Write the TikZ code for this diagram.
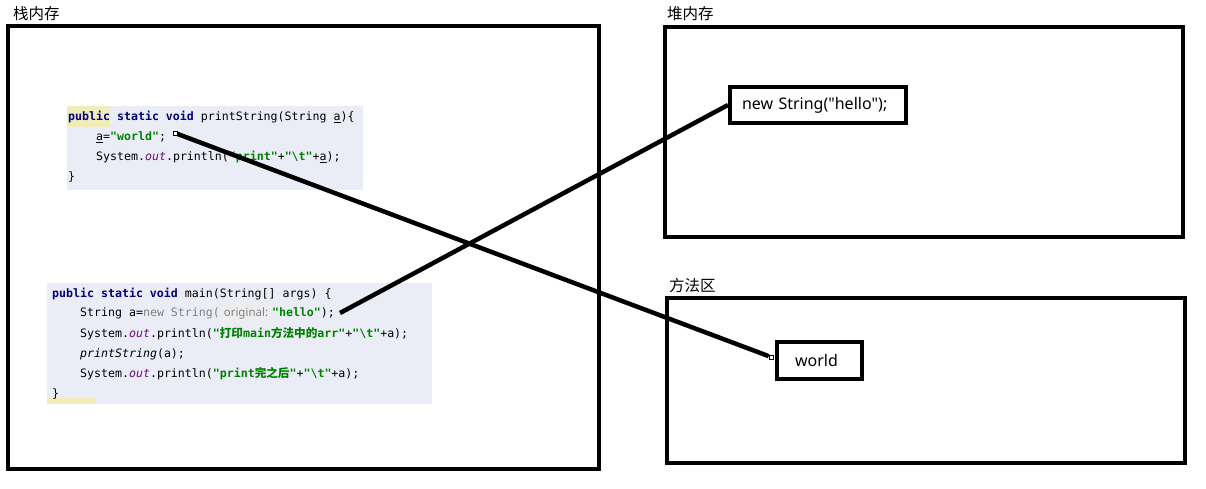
\documentclass[tikz,border=0pt]{standalone}
\usepackage{fontspec}
\setmainfont{Noto Sans}
\setmonofont{DejaVu Sans Mono}
\newfontfamily\cjk{Noto Sans CJK SC}
\usetikzlibrary{positioning}

\definecolor{kwblue}{RGB}{0,0,128}
\definecolor{strgreen}{RGB}{0,128,0}
\definecolor{fieldpurple}{RGB}{102,14,122}
\definecolor{codebg}{RGB}{234,237,245}
\definecolor{hintgray}{RGB}{128,128,128}

\newcommand{\kw}[1]{\textcolor{kwblue}{\bfseries #1}}
\newcommand{\str}[1]{\textcolor{strgreen}{\bfseries #1}}
\newcommand{\fld}[1]{\textcolor{fieldpurple}{\itshape #1}}
\newcommand{\cn}[1]{{\cjk\bfseries #1}}
\newcommand{\hint}[1]{{\setlength\fboxsep{2pt}\colorbox{gray!13}{\rmfamily\fontsize{11.5}{12}\selectfont\color{hintgray}#1}}}

\begin{document}
\begin{tikzpicture}[
    x=1pt, y=-1pt,
    area/.style={draw, line width=4pt},
    objbox/.style={draw, line width=4pt, anchor=north west, inner ysep=0pt,
        align=left, font=\fontsize{16}{18}\selectfont},
    areatitle/.style={anchor=west, inner sep=0pt, font=\cjk\fontsize{15.5}{18}\selectfont},
    codeline/.style={anchor=west, inner sep=0pt, font=\ttfamily\fontsize{11.6}{14}\selectfont},
    refbox/.style={draw, line width=0.6pt, fill=white, minimum size=4pt, inner sep=0pt},
    ref/.style={line width=4.5pt}
]
\useasboundingbox (0,0) rectangle (1206,489);

% three memory areas
\draw[area] (8,26) rectangle (599,469);
\draw[area] (665,27) rectangle (1183,237);
\draw[area] (667,298) rectangle (1185,463);
\node[areatitle] (stacktitle) at (13,14) {栈内存};
\node[areatitle] (heaptitle) at (667,14) {堆内存};
\node[areatitle] (methodtitle) at (669,286) {方法区};

% code of printString
\fill[codebg] (67,106) rectangle (363,190);
\fill[yellow!25!codebg] (67,106) rectangle (110,127);
\node[codeline] (p1) at (68,117) {\kw{public static void} printString(String \underline{a})\{};
\node[codeline] (p2) at (96,137) {\underline{a}=\str{"world"};};
\node[codeline] (p3) at (96,157) {System.\fld{out}.println(\str{"print"}+\str{"\textbackslash t"}+\underline{a});};
\node[codeline] (p4) at (68,177) {\}};

% code of main
\fill[codebg] (47,283) rectangle (432,404);
\fill[yellow!25!codebg] (47,398) rectangle (95,404);
\node[codeline] (m1) at (52,294) {\kw{public static void} main(String[] args) \{};
\node[codeline] (m2) at (80,314) {String a=\textcolor{hintgray}{new String(}\,\hint{original:}\,\str{"hello"});};
\node[codeline] (m3) at (80,334) {System.\fld{out}.println(\str{"\cn{打印}main\cn{方法中的}arr"}+\str{"\textbackslash t"}+a);};
\node[codeline] (m4) at (80,354) {\textit{printString}(a);};
\node[codeline] (m5) at (80,374) {System.\fld{out}.println(\str{"print\cn{完之后}"}+\str{"\textbackslash t"}+a);};
\node[codeline] (m6) at (52,394) {\}};

% objects
\node[objbox, inner xsep=12pt, text width=152pt, minimum height=36pt] (hello) at (728,85)
    {new String(\textquotedbl hello\textquotedbl);};
\node[objbox, inner xsep=18pt, text width=49pt, minimum height=37pt] (world) at (775,340) {world};

% references
\coordinate (helloref) at (340,313);
\node[refbox] (worldref) at (175,133) {};
\node[refbox] (worldend) at (771,357) {};
\draw[ref] (worldref) -- (worldend);
\draw[ref] (helloref) -- (hello.west);
\end{tikzpicture}
\end{document}
